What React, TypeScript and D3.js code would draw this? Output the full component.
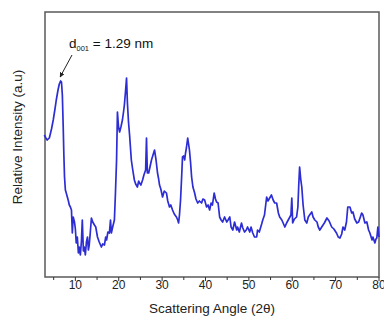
import * as d3 from 'd3';
import React from 'react';

// XRD pattern (2θ in degrees, intensity in arbitrary units)
const twoTheta = [
  2.84, 3.2, 3.5, 4.0, 4.5, 4.9, 5.3, 5.6, 6.0, 6.3, 6.6, 6.8, 7.0, 7.2, 7.35, 7.5, 7.7, 7.9, 8.15, 8.4,
  8.6, 8.85, 9.1, 9.3, 9.5, 9.8, 10.0, 10.2, 10.45, 10.7, 10.9, 11.15, 11.4, 11.6, 11.85, 12.05, 12.3, 12.55, 12.8, 13.0,
  13.2, 13.45, 13.7, 14.0, 14.4, 14.7, 15.1, 15.5, 16.0, 16.3, 16.7, 17.0, 17.2, 17.5, 17.85, 18.1, 18.3, 18.6, 19.0, 19.25,
  19.5, 19.7, 19.95, 20.2, 20.5, 20.85, 21.1, 21.3, 21.55, 21.8, 22.0, 22.25, 22.5, 22.9, 23.2, 23.6, 23.9, 24.3, 24.6, 24.8,
  25.1, 25.5, 25.8, 26.2, 26.4, 26.6, 26.9, 27.2, 27.55, 27.9, 28.25, 28.6, 28.94, 29.2, 29.4, 29.7, 30.1, 30.5, 31.0, 31.3,
  31.7, 32.0, 32.4, 32.8, 33.3, 33.6, 33.8, 34.0, 34.25, 34.5, 34.7, 35.0, 35.2, 35.4, 35.6, 35.9, 36.1, 36.3, 36.55, 36.8,
  37.1, 37.5, 37.8, 38.2, 38.6, 39.1, 39.4, 39.8, 40.25, 40.6, 40.95, 41.3, 41.6, 42.0, 42.3, 42.56, 42.9, 43.26, 43.6, 43.95,
  44.4, 44.9, 45.2, 45.6, 45.9, 46.3, 46.7, 47.2, 47.4, 47.8, 48.3, 48.6, 49.0, 49.4, 49.7, 50.2, 50.5, 50.9, 51.3, 51.8,
  52.0, 52.4, 52.95, 53.2, 53.6, 54.1, 54.4, 54.8, 55.2, 55.6, 55.96, 56.4, 56.8, 57.1, 57.6, 57.9, 58.3, 58.7, 59.2, 59.7,
  59.9, 60.1, 60.5, 61.0, 61.3, 61.5, 61.7, 61.95, 62.2, 62.5, 62.9, 63.35, 63.7, 64.0, 64.5, 64.8, 65.2, 65.7, 66.0, 66.35,
  66.8, 67.4, 68.0, 68.5, 69.1, 69.6, 70.2, 70.6, 71.0, 71.4, 71.7, 72.1, 72.5, 72.8, 73.3, 73.7, 74.0, 74.4, 74.9, 75.3,
  75.7, 76.0, 76.3, 76.75, 77.2, 77.6, 77.9, 78.4, 78.6, 79.05, 79.3, 79.5, 79.74, 80.0,
];

const intensity = [
  142, 139, 137, 139, 148, 157, 168, 177, 187, 193, 196, 195, 182, 150, 122, 100, 87, 84, 80, 76,
  72, 70, 67, 44, 60, 55, 48, 34, 40, 24, 30, 22, 36, 57, 26, 30, 22, 35, 40, 27,
  32, 45, 59, 55, 52, 50, 40, 35, 30, 33, 32, 40, 37, 45, 44, 57, 44, 50, 57, 85,
  117, 165, 150, 145, 150, 157, 165, 172, 185, 199, 174, 155, 142, 117, 108, 97, 93, 90, 96, 94,
  92, 97, 102, 107, 139, 104, 104, 110, 117, 122, 127, 117, 104, 98, 92, 88, 80, 86, 84, 76,
  70, 72, 67, 63, 60, 57, 54, 62, 77, 100, 120, 121, 117, 124, 129, 139, 133, 127, 115, 100,
  90, 84, 78, 74, 76, 74, 78, 77, 70, 72, 67, 74, 72, 84, 78, 75, 74, 60, 57, 55,
  60, 55, 57, 60, 50, 47, 55, 47, 50, 45, 54, 49, 45, 47, 50, 45, 50, 44, 40, 40,
  47, 45, 53, 57, 62, 80, 76, 79, 82, 77, 74, 74, 64, 60, 57, 54, 50, 54, 58, 62,
  79, 54, 58, 60, 70, 92, 110, 98, 90, 72, 57, 54, 60, 62, 65, 60, 57, 55, 50, 47,
  50, 54, 59, 56, 50, 48, 44, 40, 39, 43, 50, 47, 55, 70, 70, 64, 65, 58, 54, 55,
  60, 64, 62, 54, 55, 47, 44, 37, 40, 34, 38, 39, 50, 40,
];

const xTicks = [10, 20, 30, 40, 50, 60, 70, 80];
const xMinorTicks = [5, 15, 25, 35, 45, 55, 65, 75];

const App = () => {
  const width = 384;
  const height = 324;
  const left = 45;
  const right = 379;
  const top = 12;
  const bottom = 277;

  const x = d3.scaleLinear().domain([3, 80]).range([left, right]);
  const y = d3.scaleLinear().domain([0, 265]).range([bottom, top]);

  const points = twoTheta.map((t, i) => [t, intensity[i]] as [number, number]);
  const line = d3.line<[number, number]>()
    .x((d) => x(d[0]))
    .y((d) => y(d[1]))
    .curve(d3.curveLinear);

  const font = 'Arial, "Liberation Sans", sans-serif';
  const peak = points[10];

  return (
    <svg width={width} height={height} style={{ position: 'absolute', left: 0, top: 0, background: '#fff' }}>
      <defs>
        <marker id="arrow" viewBox="0 0 10 10" refX="9" refY="5" markerWidth="5" markerHeight="5" orient="auto">
          <path d="M0,0 L10,5 L0,10 z" fill="#222" />
        </marker>
      </defs>

      {/* frame */}
      <rect x={left} y={top} width={right - left} height={bottom - top} fill="none" stroke="#5a5a5a" strokeWidth={1.5} />

      {/* pattern */}
      <path d={line(points) || ''} fill="none" stroke="#2d2dd4" strokeWidth={1.7} strokeLinejoin="round" />

      {/* x axis ticks */}
      {xTicks.map((t) => (
        <g key={t}>
          <line x1={x(t)} x2={x(t)} y1={bottom} y2={bottom + 4} stroke="#333" strokeWidth={1} />
          <text x={x(t)} y={289} textAnchor="middle" fontFamily={font} fontSize={12} fill="#222">{t}</text>
        </g>
      ))}
      {xMinorTicks.map((t) => (
        <line key={t} x1={x(t)} x2={x(t)} y1={bottom} y2={bottom + 3} stroke="#333" strokeWidth={1} />
      ))}

      <text x={212} y={313} textAnchor="middle" fontFamily={font} fontSize={13.5} fill="#222">
        Scattering Angle (2θ)
      </text>
      <text
        transform={`translate(22,137) rotate(-90)`}
        textAnchor="middle"
        fontFamily={font}
        fontSize={13.5}
        fill="#222"
      >
        Relative Intensity (a.u)
      </text>

      {/* annotation */}
      <text x={69} y={48} fontFamily={font} fontSize={13.5} fill="#111">
        d<tspan fontSize={7.5} dy={3}>001</tspan><tspan dy={-3}> = 1.29 nm</tspan>
      </text>
      <line x1={72} y1={55} x2={x(peak[0]) - 0.5} y2={y(peak[1]) - 4} stroke="#222" strokeWidth={1} markerEnd="url(#arrow)" />
    </svg>
  );
};

export default App;
